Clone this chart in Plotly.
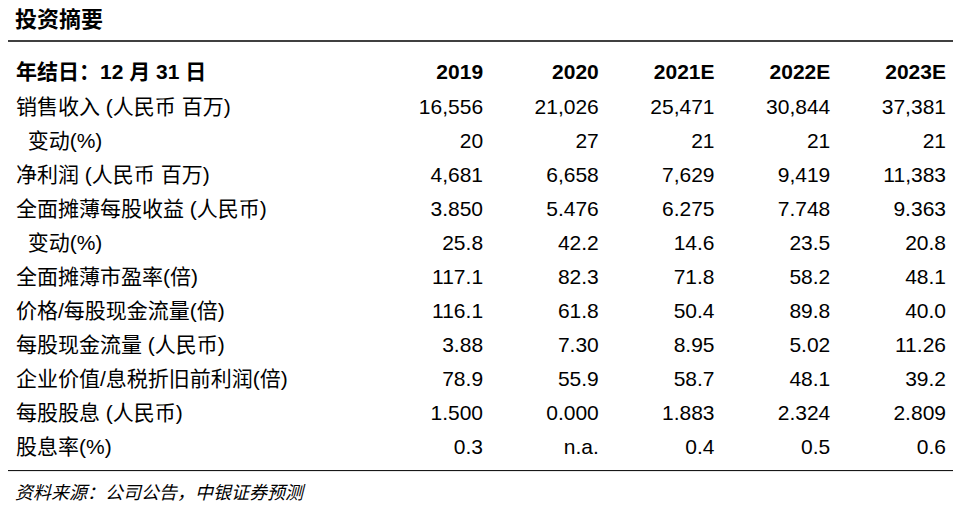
import plotly.graph_objects as go

# table data
header = ["年结日：12 月 31 日", "2019", "2020", "2021E", "2022E", "2023E"]
row_labels = [
    "销售收入 (人民币 百万)",
    "\u00a0\u00a0变动(%)",
    "净利润 (人民币 百万)",
    "全面摊薄每股收益 (人民币)",
    "\u00a0\u00a0变动(%)",
    "全面摊薄市盈率(倍)",
    "价格/每股现金流量(倍)",
    "每股现金流量 (人民币)",
    "企业价值/息税折旧前利润(倍)",
    "每股股息 (人民币)",
    "股息率(%)",
]
y2019 = ["16,556", "20", "4,681", "3.850", "25.8", "117.1", "116.1", "3.88", "78.9", "1.500", "0.3"]
y2020 = ["21,026", "27", "6,658", "5.476", "42.2", "82.3", "61.8", "7.30", "55.9", "0.000", "n.a."]
y2021e = ["25,471", "21", "7,629", "6.275", "14.6", "71.8", "50.4", "8.95", "58.7", "1.883", "0.4"]
y2022e = ["30,844", "21", "9,419", "7.748", "23.5", "58.2", "89.8", "5.02", "48.1", "2.324", "0.5"]
y2023e = ["37,381", "21", "11,383", "9.363", "20.8", "48.1", "40.0", "11.26", "39.2", "2.809", "0.6"]

FONT = "Liberation Sans, Arial, Noto Sans CJK SC"

fig = go.Figure(
    go.Table(
        domain=dict(x=[0.0, 0.985], y=[0.1, 0.915]),
        columnwidth=[365, 115, 115, 115, 115, 115],
        header=dict(
            values=["<b>%s</b>" % h for h in header],
            align=["left"] + ["right"] * 5,
            font=dict(family=FONT, size=21, color="black"),
            fill_color="white",
            line_color="white",
            height=34,
        ),
        cells=dict(
            values=[row_labels, y2019, y2020, y2021e, y2022e, y2023e],
            align=["left"] + ["right"] * 5,
            font=dict(family=FONT, size=21, color="black"),
            fill_color="white",
            line_color="white",
            height=34,
        ),
    )
)

fig.add_shape(type="line", xref="paper", yref="paper", x0=0, x1=1, y0=0.936, y1=0.936,
              line=dict(color="black", width=1.5))
fig.add_shape(type="line", xref="paper", yref="paper", x0=0, x1=1, y0=0.1, y1=0.1,
              line=dict(color="black", width=1))

fig.add_annotation(text="<b>投资摘要</b>", xref="paper", yref="paper", x=0.005, y=1.005,
                   xanchor="left", yanchor="top", showarrow=False,
                   font=dict(family=FONT, size=22, color="black"))
fig.add_annotation(text="<i>资料来源：公司公告，中银证券预测</i>", xref="paper", yref="paper",
                   x=0.005, y=0.08, xanchor="left", yanchor="top", showarrow=False,
                   font=dict(family=FONT, size=18, color="black"))

fig.update_layout(
    width=961,
    height=514,
    margin=dict(l=0, r=0, t=0, b=0),
    plot_bgcolor="white",
    paper_bgcolor="white",
)

fig.write_html("out.html")
